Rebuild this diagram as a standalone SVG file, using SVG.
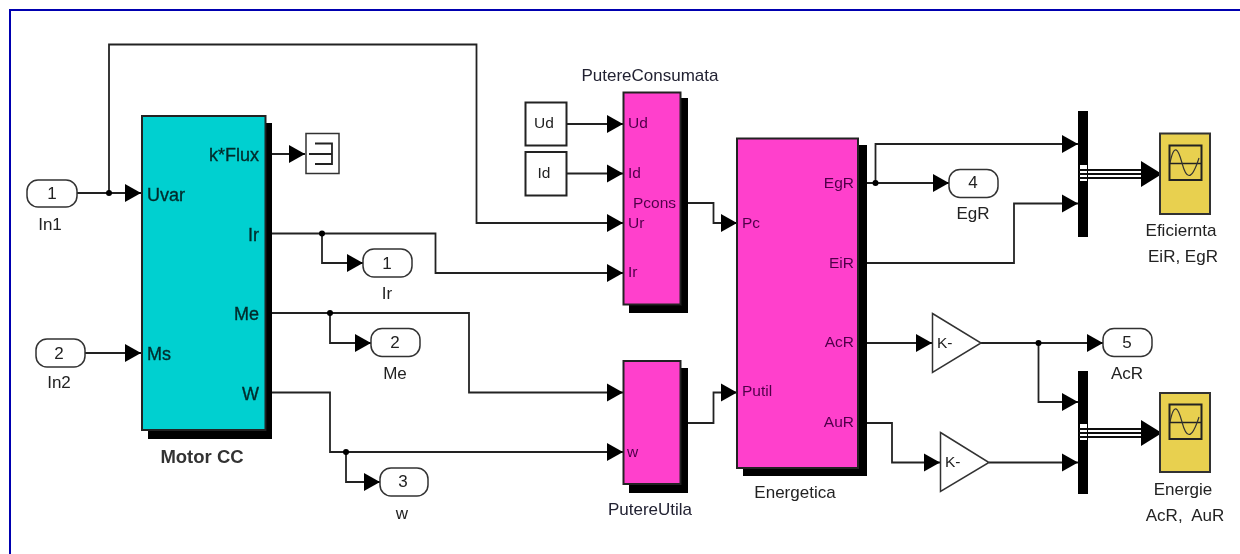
<svg xmlns="http://www.w3.org/2000/svg" width="1240" height="554" viewBox="0 0 1240 554">
<style>
text{font-family:"Liberation Sans",Arial,sans-serif;font-size:17px;fill:#222}
.m{text-anchor:middle}.e{text-anchor:end}
.b{font-size:18px;fill:#002c2c;stroke:#002c2c;stroke-width:.35}
.p{font-size:15.500px;fill:#50004a}
.s{font-size:15.500px}
.blk{stroke:#222;stroke-width:2}
.shadow{fill:#000}
.cyan{fill:#00d0d0}.mag{fill:#ff40cc}.yel{fill:#e8d050}
.port{fill:#fff;stroke:#333;stroke-width:1.500}
.wire{fill:none;stroke:#222;stroke-width:1.800;marker-end:url(#arr)}
.bus{fill:none;stroke:#111;stroke-width:2}
.dot{fill:#000}
</style>
<defs>
<marker id="arr" markerUnits="userSpaceOnUse" markerWidth="17" markerHeight="19" refX="16" refY="9.5" orient="auto"><path d="M0 0.5L16 9.5L0 18.5Z" fill="#000"/></marker>
<marker id="arrb" markerUnits="userSpaceOnUse" markerWidth="22" markerHeight="28" refX="21" refY="14" orient="auto"><path d="M0 1L21 14L0 27Z" fill="#000"/></marker>
<filter id="soft" x="0" y="0" width="100%" height="100%"><feGaussianBlur stdDeviation="0.45"/></filter>
</defs>
<rect width="1240" height="554" fill="#fff"/>
<g filter="url(#soft)">
<path id="frame" d="M9.500 554V9.500H1240" fill="none" stroke="#0000b0" stroke-width="3"/>
<g id="connectors">
<path class="wire" d="M77 193H141"/>
<path class="wire" d="M109 193V44.500H476.500V223H623"/>
<path class="wire" d="M85 353H141"/>
<path class="wire" d="M272 154H305"/>
<path class="wire" d="M272 233.500H435.500V273H623"/>
<path class="wire" d="M322 233.500V263H363"/>
<path class="wire" d="M272 313H469V392.500H623"/>
<path class="wire" d="M330 313V343H371"/>
<path class="wire" d="M272 392.500H330V452H623"/>
<path class="wire" d="M346 452V482H380"/>
<path class="wire" d="M567 124H623"/>
<path class="wire" d="M567 173.500H623"/>
<path class="wire" d="M688 203H713.500V223H737"/>
<path class="wire" d="M688 423H713.500V392.500H737"/>
<path class="wire" d="M867 183H949"/>
<path class="wire" d="M875.500 183V144H1078"/>
<path class="wire" d="M867 263H1014V203.500H1078"/>
<path class="wire" d="M867 343H932"/>
<path class="wire" d="M981 343H1103"/>
<path class="wire" d="M1038.500 343V402H1078"/>
<path class="wire" d="M867 423H892V462.500H940"/>
<path class="wire" d="M989 462.500H1078"/>
<path class="bus" d="M1088 170H1145M1088 174H1145M1088 178H1145"/>
<path class="bus" style="marker-end:url(#arrb)" d="M1141 174H1162"/>
<path class="bus" d="M1088 429H1145M1088 433H1145M1088 437H1145"/>
<path class="bus" style="marker-end:url(#arrb)" d="M1141 433H1162"/>
<circle class="dot" cx="109" cy="193" r="3"/>
<circle class="dot" cx="322" cy="233.500" r="3"/>
<circle class="dot" cx="330" cy="313" r="3"/>
<circle class="dot" cx="346" cy="452" r="3"/>
<circle class="dot" cx="875.500" cy="183" r="3"/>
<circle class="dot" cx="1038.500" cy="343" r="3"/>
</g>
<g id="motor">
<rect class="shadow" x="148" y="123" width="124" height="316"/>
<rect class="blk cyan" x="142" y="116" width="123.500" height="314"/>
<text class="b" x="147" y="201">Uvar</text><text class="b" x="147" y="360">Ms</text>
<text class="b e" x="259" y="161">k*Flux</text><text class="b e" x="259" y="241">Ir</text><text class="b e" x="259" y="320">Me</text><text class="b e" x="259" y="400">W</text>
<text class="m" x="202" y="463" style="font-size:18.500px;font-weight:bold;fill:#333">Motor CC</text>
</g>
<g id="in1"><rect class="port" x="27" y="180" width="50" height="27" rx="11"/><text class="m" x="52" y="199">1</text><text class="m" x="50" y="230">In1</text></g>
<g id="in2"><rect class="port" x="36" y="339" width="49" height="28" rx="11"/><text class="m" x="59" y="359">2</text><text class="m" x="59" y="388">In2</text></g>
<g id="terminator"><rect x="306" y="133.500" width="33" height="40" fill="#fff" stroke="#333" stroke-width="1.500"/><path d="M315 143.500H332V164H315M309 154H332" fill="none" stroke="#222" stroke-width="1.800"/></g>
<g id="out1"><rect class="port" x="363" y="249" width="49" height="28" rx="11"/><text class="m" x="387" y="269">1</text><text class="m" x="387" y="299">Ir</text></g>
<g id="out2"><rect class="port" x="371" y="328.500" width="49" height="28" rx="11"/><text class="m" x="395" y="348">2</text><text class="m" x="395" y="379">Me</text></g>
<g id="out3"><rect class="port" x="380" y="468" width="48" height="28" rx="11"/><text class="m" x="403" y="487">3</text><text class="m" x="402" y="519">w</text></g>
<g id="ud"><rect x="525.500" y="102.500" width="41" height="43" fill="#fff" stroke="#222" stroke-width="2"/><text class="m s" x="544" y="128">Ud</text></g>
<g id="id"><rect x="525.500" y="152" width="41" height="43.500" fill="#fff" stroke="#222" stroke-width="2"/><text class="m s" x="544" y="178">Id</text></g>
<g id="putereConsumata">
<rect class="shadow" x="629" y="98" width="59" height="215"/>
<rect class="blk mag" x="623.500" y="92.500" width="57" height="212"/>
<text class="p" x="628" y="128">Ud</text><text class="p" x="628" y="178">Id</text><text class="p" x="633" y="208">Pcons</text><text class="p" x="628" y="228">Ur</text><text class="p" x="628" y="277">Ir</text>
<text class="m" x="650" y="81" style="fill:#223">PutereConsumata</text>
</g>
<g id="putereUtila">
<rect class="shadow" x="629" y="368" width="59" height="125"/>
<rect class="blk mag" x="623.500" y="361" width="57" height="123"/>
<text class="p" x="627" y="457">w</text>
<text class="m" x="650" y="515" style="fill:#223">PutereUtila</text>
</g>
<g id="energetica">
<rect class="shadow" x="743" y="145" width="124" height="331"/>
<rect class="blk mag" x="737" y="138.500" width="121" height="329.500"/>
<text class="p" x="742" y="228">Pc</text><text class="p" x="742" y="396">Putil</text>
<text class="p e" x="854" y="188">EgR</text><text class="p e" x="854" y="268">EiR</text><text class="p e" x="854" y="347">AcR</text><text class="p e" x="854" y="427">AuR</text>
<text class="m" x="795" y="498">Energetica</text>
</g>
<g id="out4"><rect class="port" x="949" y="169.500" width="49" height="28" rx="11"/><text class="m" x="973" y="188">4</text><text class="m" x="973" y="219">EgR</text></g>
<g id="mux1"><rect x="1078" y="111" width="10" height="126" fill="#000"/><rect x="1080" y="165" width="7" height="16" fill="#fff"/><path d="M1079 170H1088M1079 174H1088M1079 178H1088" stroke="#111" stroke-width="2"/></g>
<g id="scope1"><rect x="1160" y="133.500" width="50" height="80.500" class="yel" stroke="#333" stroke-width="2"/><rect x="1169.500" y="145.500" width="32" height="34.500" fill="none" stroke="#222" stroke-width="2"/><path d="M1170 163.500H1201" stroke="#222" stroke-width="1.500"/><path d="M1170 163C1174 143 1178 148 1182 163S1191 183 1199 158" fill="none" stroke="#333" stroke-width="1.200"/>
<text class="m" x="1181" y="236">Eficiernta</text><text class="m" x="1183" y="262">EiR, EgR</text></g>
<g id="gain1"><path d="M932.500 313.500L981 343L932.500 372.500Z" fill="#fff" stroke="#333" stroke-width="1.500"/><text class="s" x="937" y="348">K-</text></g>
<g id="out5"><rect class="port" x="1103" y="328.500" width="49" height="28" rx="11"/><text class="m" x="1127" y="348">5</text><text class="m" x="1127" y="379">AcR</text></g>
<g id="gain2"><path d="M940.500 432.500L989 462.500L940.500 491.500Z" fill="#fff" stroke="#333" stroke-width="1.500"/><text class="s" x="945" y="467">K-</text></g>
<g id="mux2"><rect x="1078" y="371" width="10" height="123" fill="#000"/><rect x="1080" y="424" width="7" height="16" fill="#fff"/><path d="M1079 429H1088M1079 433H1088M1079 437H1088" stroke="#111" stroke-width="2"/></g>
<g id="scope2"><rect x="1160" y="393" width="50" height="79" class="yel" stroke="#333" stroke-width="2"/><rect x="1169.500" y="404.500" width="32" height="34.500" fill="none" stroke="#222" stroke-width="2"/><path d="M1170 422.500H1201" stroke="#222" stroke-width="1.500"/><path d="M1170 422C1174 402 1178 407 1182 422S1191 442 1199 417" fill="none" stroke="#333" stroke-width="1.200"/>
<text class="m" x="1183" y="495">Energie</text><text class="m" x="1185" y="521" xml:space="preserve">AcR,  AuR</text></g>
</g>
</svg>
